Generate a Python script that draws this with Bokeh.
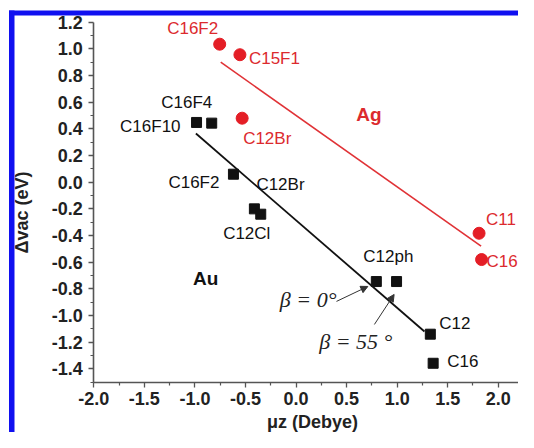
from bokeh.plotting import figure
from bokeh.models import (Range1d, FixedTicker, NumeralTickFormatter, ColumnDataSource,
                          Label, Arrow, NormalHead, BoxAnnotation)
from bokeh.core.properties import value
from bokeh.embed import file_html
from bokeh.resources import INLINE
import math

# ---------------- data ----------------
au_labels = ["C16F10", "C16F4", "C16F2", "C12Br", "C12Cl", "C12ph", "", "C12", "C16"]
au_mu = [-0.984, -0.834, -0.619, -0.412, -0.349, 0.794, 0.994, 1.328, 1.356]
au_dv = [0.448, 0.443, 0.060, -0.200, -0.240, -0.745, -0.745, -1.140, -1.358]

ag_labels = ["C16F2", "C15F1", "C12Br", "C11", "C16"]
ag_mu = [-0.755, -0.555, -0.533, 1.810, 1.835]
ag_dv = [1.035, 0.956, 0.480, -0.383, -0.580]

au_fit_mu = [-0.99, 1.27]
au_fit_dv = [0.365, -1.12]
ag_fit_mu = [-0.745, 1.83]
ag_fit_dv = [0.900, -0.480]

x_ticks = [-2.0, -1.5, -1.0, -0.5, 0.0, 0.5, 1.0, 1.5, 2.0]
y_ticks = [-1.4, -1.2, -1.0, -0.8, -0.6, -0.4, -0.2, 0.0, 0.2, 0.4, 0.6, 0.8, 1.0, 1.2]

# ---------------- layout (pixels) ----------------
W, H = 518, 432
AX_X0, AX_X1 = -2.0, 2.2        # axis extent (x)
AX_Y0, AX_Y1 = -1.5, 1.2        # axis extent (y)
X0_PX, X1_PX = 93.3, 518        # canvas x of the axis ends
Y1_PX, Y0_PX = 21.7, 381.7      # canvas y of the axis ends
kx = (X1_PX - X0_PX) / (AX_X1 - AX_X0)
ky = (Y0_PX - Y1_PX) / (AX_Y1 - AX_Y0)
x_lo = AX_X0 - X0_PX / kx
x_hi = AX_X1 + (W - X1_PX) / kx
y_hi = AX_Y1 + Y1_PX / ky
y_lo = AX_Y0 - (H - Y0_PX) / ky


def dx_at(px):
    return x_lo + px / kx


def dy_at(py):
    return y_hi - py / ky


au_align = ["right", "center", "right", "left", "center", "center", "center", "left", "left"]
au_dx = [-16, -25, -14, 2, -14, 12, 0, 9, 14]
au_dy = [4, -21, 8, -24, 19, -25, 0, -11, -2]
ag_align = ["center", "left", "left", "left", "left"]
ag_dx = [-27, 9, 1, 7, 5]
ag_dy = [-16, 4, 20, -14, 2]

RED = "#e41e26"
RED_T = "#dc2a2e"
BLACK = "#111111"
AX = "#555555"
FONT = "Liberation Sans"
BLUE = "#1010f0"

p = figure(width=W, height=H, output_backend="svg", toolbar_location=None,
           x_range=Range1d(x_lo, x_hi), y_range=Range1d(y_lo, y_hi), min_border=0)
p.outline_line_color = None
p.xgrid.grid_line_color = None
p.ygrid.grid_line_color = None
p.background_fill_color = "white"
p.border_fill_color = "white"

x_minor = [(a + b) / 2 for a, b in zip(x_ticks[:-1], x_ticks[1:])]
y_minor = [round((a + b) / 2, 2) for a, b in zip(y_ticks[:-1], y_ticks[1:])] + [-1.5]
p.xaxis.fixed_location = AX_Y0
p.yaxis.fixed_location = AX_X0
p.xaxis.bounds = (AX_X0, AX_X1)
p.yaxis.bounds = (AX_Y0, AX_Y1)
p.xaxis.ticker = FixedTicker(ticks=x_ticks, minor_ticks=x_minor)
p.yaxis.ticker = FixedTicker(ticks=y_ticks, minor_ticks=y_minor)
p.xaxis.formatter = NumeralTickFormatter(format="0.0")
p.yaxis.formatter = NumeralTickFormatter(format="0.0")
for ax in (p.xaxis, p.yaxis):
    ax.axis_line_color = AX
    ax.axis_line_width = 1.6
    ax.major_tick_line_color = AX
    ax.minor_tick_line_color = AX
    ax.major_tick_line_width = 1.3
    ax.minor_tick_line_width = 1.2
    ax.major_tick_in = 0
    ax.major_tick_out = 5
    ax.minor_tick_in = 0
    ax.minor_tick_out = 3
    ax.major_label_text_font = FONT
    ax.major_label_text_font_style = "bold"
    ax.major_label_text_font_size = "18px"
    ax.major_label_text_color = "#222222"
p.yaxis.major_label_standoff = 6
p.xaxis.major_label_standoff = 5

# fit lines
p.line(au_fit_mu, au_fit_dv, line_color=BLACK, line_width=1.8)
p.line(ag_fit_mu, ag_fit_dv, line_color="#e03236", line_width=1.6)

# markers
p.scatter(au_mu, au_dv, marker="square", size=10, fill_color=BLACK, line_color=BLACK)
p.scatter(ag_mu, ag_dv, marker="circle", size=12, fill_color=RED, line_color=RED)


def add_labels(mus, dvs, labels, aligns, dxs, dys, color):
    for al in sorted(set(aligns)):
        idx = [i for i, a in enumerate(aligns) if a == al and labels[i]]
        src = ColumnDataSource(dict(x=[mus[i] for i in idx], y=[dvs[i] for i in idx],
                                    t=[labels[i] for i in idx],
                                    dx=[dxs[i] for i in idx], dy=[dys[i] for i in idx]))
        p.text(x="x", y="y", text="t", x_offset="dx", y_offset="dy", source=src,
               text_align=al, text_baseline="middle", text_color=color,
               text_font=value(FONT), text_font_size="17px")


add_labels(au_mu, au_dv, au_labels, au_align, au_dx, au_dy, BLACK)
add_labels(ag_mu, ag_dv, ag_labels, ag_align, ag_dx, ag_dy, RED_T)

# group labels
p.add_layout(Label(x=-0.893, y=-0.719, text="Au", text_align="center", text_baseline="middle",
                   text_font=FONT, text_font_style="bold", text_font_size="19px", text_color=BLACK))
p.add_layout(Label(x=0.72, y=0.506, text="Ag", text_align="center", text_baseline="middle",
                   text_font=FONT, text_font_style="bold", text_font_size="19px", text_color=RED_T))

# beta annotations
for bx, by, bt in [(-0.16, -0.881, "β = 0°"), (0.23, -1.195, "β = 55 °")]:
    p.add_layout(Label(x=bx, y=by, text=bt, text_align="left", text_baseline="middle",
                       text_font="Liberation Serif", text_font_style="italic",
                       text_font_size="22px", text_color="#222222"))
for xs, ys, xe, ye in [(0.40, -0.894, 0.71, -0.782), (0.775, -1.067, 0.97, -0.842)]:
    p.add_layout(Arrow(x_start=xs, y_start=ys, x_end=xe, y_end=ye, line_color="#333333",
                       line_width=1,
                       end=NormalHead(size=7, fill_color="#333333", line_color="#333333")))

# axis titles
p.add_layout(Label(x=dx_at(312), y=dy_at(421), text="μz (Debye)", text_align="center",
                   text_baseline="middle", text_font=FONT, text_font_style="bold",
                   text_font_size="18px", text_color="#222222"))
p.add_layout(Label(x=dx_at(21), y=dy_at(212), text="Δvac (eV)", angle=math.pi / 2,
                   text_align="center", text_baseline="middle", text_font=FONT,
                   text_font_style="bold", text_font_size="18px", text_color="#222222"))

# blue frame bars (left and top) of the original picture
p.add_layout(BoxAnnotation(left=dx_at(8.5), right=dx_at(14), top=dy_at(10), fill_color=BLUE,
                           fill_alpha=1.0, line_color=None, level="overlay"))
p.add_layout(BoxAnnotation(top=dy_at(10), bottom=dy_at(15), left=dx_at(8.5), fill_color=BLUE,
                           fill_alpha=1.0, line_color=None, level="overlay"))

open("out.html", "w").write(file_html(p, INLINE))
